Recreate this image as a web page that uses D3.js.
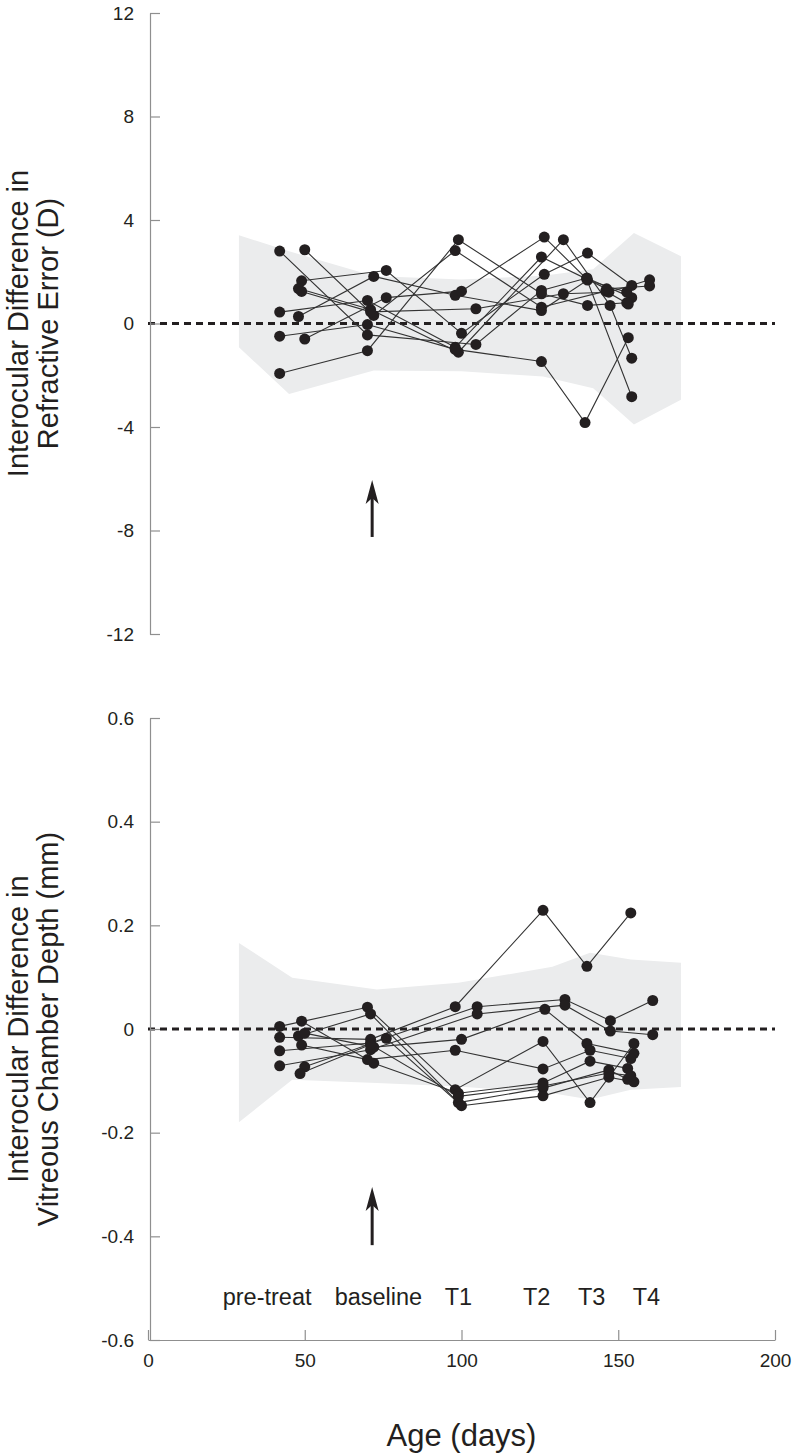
<!DOCTYPE html>
<html>
<head>
<meta charset="utf-8">
<title>Interocular differences</title>
<script src="https://d3js.org/d3.v7.min.js"></script>
<style>
  body { margin: 0; background: white; }
  text { font-family: "Liberation Sans", Arial, Helvetica, sans-serif; fill: #231f20; }
  .axis path, .axis line { stroke: #8f8f8f; stroke-width: 1.2; }
  .axis text { font-size: 19px; fill: #231f20; }
</style>
</head>
<body>
<div id="chart"></div>
<script>

// ---- data ----
// refractive error, one row per animal: ages (days) and interocular difference (D)
var refAge = [
  [42, 70, 104.6, 125.5, 140, 154.3],
  [50, 72, 98, 125.5, 146, 153.2],
  [49, 76, 100, 126.4, 140.2, 154.3],
  [48, 71, 99, 132.5, 147.4, 154.3],
  [49, 71, 104.6, 132.5, 147, 160],
  [42, 70, 98, 125.5, 146.3, 160],
  [48, 72, 98, 125.5, 140.2, 152.7],
  [42, 70, 98, 125.5, 139.4, 153.2],
  [50, 76, 100, 126.4, 139.9, 154.3],
  [42, 70, 99, 125.5, 140.2, 152.7]
];
var refDiff = [
  [2.80, -0.44, -0.81, 1.28, 1.76, 1.00],
  [2.85, 0.31, 2.82, 0.63, 1.25, 0.75],
  [1.65, 2.05, -0.38, 1.90, 2.72, 1.47],
  [1.35, 0.54, -1.11, 3.24, 0.70, -1.34],
  [1.24, 0.45, 0.57, 1.15, 1.21, 1.69],
  [0.44, 0.89, -0.92, 2.57, 1.34, 1.45],
  [0.27, 1.82, 1.09, 0.50, 1.68, 1.21],
  [-0.49, -0.04, -1.00, -1.47, -3.83, -0.55],
  [-0.60, 1.00, 1.25, 3.34, 1.73, -2.83],
  [-1.93, -1.05, 3.24, 1.15, 0.70, 0.80]
];
// vitreous chamber depth (mm)
var vcdAge = [
  [42, 70, 98, 126, 141, 155],
  [42, 71, 98, 126, 140, 154],
  [42, 71, 105, 133, 147.5, 161],
  [42, 71, 105, 133, 147.5, 161],
  [49, 72, 99, 126, 141, 153],
  [48, 71, 99, 126, 147, 153],
  [50, 72, 100, 126.6, 140, 155],
  [49, 70, 98, 126, 141, 154],
  [50, 76, 100, 126, 147, 155],
  [48.5, 71, 99, 126, 147, 154]
];
var vcdDiff = [
  [0.005, 0.042, -0.117, -0.024, -0.142, -0.028],
  [-0.016, -0.020, 0.043, 0.229, 0.121, 0.224],
  [-0.042, -0.027, 0.043, 0.057, 0.016, 0.055],
  [-0.071, -0.040, 0.029, 0.046, -0.004, -0.011],
  [0.015, -0.066, -0.124, -0.104, -0.062, -0.076],
  [-0.0135, 0.029, -0.142, -0.114, -0.079, -0.097],
  [-0.008, -0.035, -0.020, 0.038, -0.028, -0.047],
  [-0.031, -0.059, -0.041, -0.077, -0.041, -0.057],
  [-0.073, -0.018, -0.148, -0.129, -0.093, -0.102],
  [-0.086, -0.030, -0.130, -0.110, -0.085, -0.090]
];

// normal range (shaded band)
var refBandAge = [29, 45, 72, 100, 126, 142, 155, 170];
var refBandHi  = [3.41, 2.79, 1.84, 1.70, 1.85, 2.10, 3.50, 2.60];
var refBandLo  = [-0.92, -2.72, -1.82, -1.85, -2.05, -2.50, -3.90, -2.95];
var vcdBandAge = [29, 46, 73, 99, 129, 141, 154, 170];
var vcdBandHi  = [0.166, 0.099, 0.076, 0.089, 0.120, 0.147, 0.134, 0.128];
var vcdBandLo  = [-0.180, -0.098, -0.104, -0.111, -0.124, -0.136, -0.117, -0.112];

var refTicks = [-12, -8, -4, 0, 4, 8, 12];
var vcdTicks = [-0.6, -0.4, -0.2, 0, 0.2, 0.4, 0.6];
var ageTicks = [0, 50, 100, 150, 200];

var phaseLabels = ["pre-treat", "baseline", "T1", "T2", "T3", "T4"];
var phaseAge    = [38, 73.5, 99, 124, 141.5, 159];

var arrowAge = 71.5;
var refArrow = [-8.25, -6.05];
var vcdArrow = [-0.417, -0.305];

// ---- drawing ----
var width = 794, height = 1453;

var svg = d3.select("#chart").append("svg")
    .attr("width", width)
    .attr("height", height);

svg.append("rect").attr("width", width).attr("height", height).attr("fill", "white");

var x = d3.scaleLinear().domain([0, 200]).range([148, 775]);
var yRef = d3.scaleLinear().domain([-12, 12]).range([634, 13]);
var yVcd = d3.scaleLinear().domain([-0.6, 0.6]).range([1340, 718]);

// plain hyphen for negatives, like the original
function hy(f) { return function(d) { return f(d).replace("\u2212", "-"); }; }

function drawPanel(y, ticks, fmt, bandAge, bandHi, bandLo, ages, diffs, arrow) {
  var g = svg.append("g");

  var band = bandAge.map(function(a, i) { return {a: a, hi: bandHi[i], lo: bandLo[i]}; });
  g.append("path")
    .datum(band)
    .attr("fill", "#ebeced")
    .attr("d", d3.area()
        .x(function(d) { return x(d.a); })
        .y0(function(d) { return y(d.lo); })
        .y1(function(d) { return y(d.hi); }));

  g.append("line")
    .attr("x1", x(0)).attr("x2", x(200))
    .attr("y1", y(0)).attr("y2", y(0))
    .attr("stroke", "#231f20")
    .attr("stroke-width", 3)
    .attr("stroke-dasharray", "7,5");

  var line = d3.line()
    .x(function(d) { return x(d[0]); })
    .y(function(d) { return y(d[1]); });

  ages.forEach(function(row, k) {
    var pts = row.map(function(a, i) { return [a, diffs[k][i]]; });
    g.append("path")
      .datum(pts)
      .attr("fill", "none")
      .attr("stroke", "#333")
      .attr("stroke-width", 1.1)
      .attr("d", line);
  });

  ages.forEach(function(row, k) {
    g.selectAll(null)
      .data(row.map(function(a, i) { return [a, diffs[k][i]]; }))
      .enter().append("circle")
      .attr("cx", function(d) { return x(d[0]); })
      .attr("cy", function(d) { return y(d[1]); })
      .attr("r", 5.5)
      .attr("fill", "#231f20");
  });

  // arrow
  var ax = x(arrowAge), yb = y(arrow[0]), yt = y(arrow[1]);
  g.append("line")
    .attr("x1", ax).attr("x2", ax)
    .attr("y1", yb).attr("y2", yt + 14)
    .attr("stroke", "#231f20").attr("stroke-width", 3);
  g.append("path")
    .attr("d", "M" + ax + "," + yt + "L" + (ax - 6.5) + "," + (yt + 24) +
               "L" + ax + "," + (yt + 18) + "L" + (ax + 6.5) + "," + (yt + 24) + "Z")
    .attr("fill", "#231f20");

  var axis = svg.append("g")
    .attr("class", "axis")
    .attr("transform", "translate(150,0)")
    .call(d3.axisLeft(y).tickValues(ticks).tickFormat(fmt)
          .tickSizeInner(-10).tickSizeOuter(0).tickPadding(16));
  axis.select(".domain").attr("stroke", "#8f8f8f");
}

drawPanel(yRef, refTicks, hy(d3.format("d")), refBandAge, refBandHi, refBandLo, refAge, refDiff, refArrow);
drawPanel(yVcd, vcdTicks, hy(function(d) { return d === 0 ? "0" : d3.format(".1f")(d); }),
          vcdBandAge, vcdBandHi, vcdBandLo, vcdAge, vcdDiff, vcdArrow);

svg.append("g")
  .attr("class", "axis")
  .attr("transform", "translate(0,1340)")
  .call(d3.axisBottom(x).tickValues(ageTicks)
        .tickSizeInner(-10).tickSizeOuter(0).tickPadding(14));

svg.selectAll(".phase")
  .data(phaseLabels)
  .enter().append("text")
  .attr("class", "phase")
  .attr("x", function(d, i) { return x(phaseAge[i]); })
  .attr("y", 1305)
  .attr("text-anchor", "middle")
  .attr("font-size", 23.5)
  .text(function(d) { return d; });

function yTitle(lines, cy) {
  lines.forEach(function(t, i) {
    svg.append("text")
      .attr("transform", "translate(" + (28 + i * 30) + "," + cy + ") rotate(-90)")
      .attr("text-anchor", "middle")
      .attr("font-size", 29)
      .text(t);
  });
}
yTitle(["Interocular Difference in", "Refractive Error (D)"], yRef(0));
yTitle(["Interocular Difference in", "Vitreous Chamber Depth (mm)"], yVcd(0));

svg.append("text")
  .attr("x", x(100))
  .attr("y", 1446)
  .attr("text-anchor", "middle")
  .attr("font-size", 31)
  .text("Age (days)");

</script>
</body>
</html>
